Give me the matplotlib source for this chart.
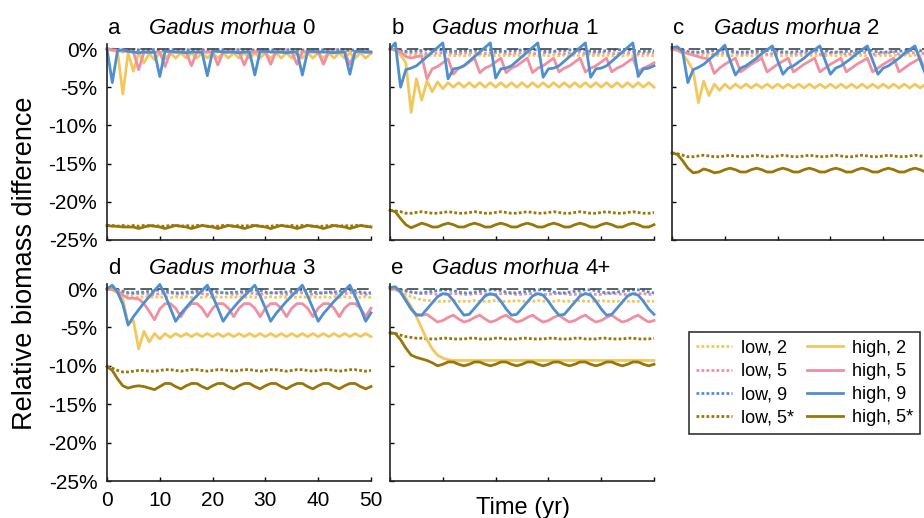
import matplotlib
matplotlib.use("Agg")
import matplotlib.pyplot as plt

plt.rcParams["font.family"] = ["Liberation Sans", "DejaVu Sans"]

years = list(range(51))

# ---- a: Gadus morhua 0 ----
a_low2 = [0, -0.1, -0.2, -0.4, -0.3, -0.4, -0.3, -0.4, -0.3, -0.4,
          -0.3, -0.4, -0.3, -0.4, -0.3, -0.4, -0.3, -0.4, -0.3, -0.4,
          -0.3, -0.4, -0.3, -0.4, -0.3, -0.4, -0.3, -0.4, -0.3, -0.4,
          -0.3, -0.4, -0.3, -0.4, -0.3, -0.4, -0.3, -0.4, -0.3, -0.4,
          -0.3, -0.4, -0.3, -0.4, -0.3, -0.4, -0.3, -0.4, -0.3, -0.4,
          -0.3]
a_low5 = [0, 0, -0.1, -0.1, -0.1, -0.1, -0.2, -0.1, -0.1, -0.1,
          -0.1, -0.2, -0.1, -0.1, -0.1, -0.1, -0.2, -0.1, -0.1, -0.1,
          -0.1, -0.2, -0.1, -0.1, -0.1, -0.1, -0.2, -0.1, -0.1, -0.1,
          -0.1, -0.2, -0.1, -0.1, -0.1, -0.1, -0.2, -0.1, -0.1, -0.1,
          -0.1, -0.2, -0.1, -0.1, -0.1, -0.1, -0.2, -0.1, -0.1, -0.1,
          -0.1]
a_low9 = [0, -0.1, -0.1, -0.1, -0.1, -0.1, -0.1, -0.1, -0.1, -0.1,
          -0.2, -0.1, -0.1, -0.1, -0.1, -0.1, -0.1, -0.1, -0.1, -0.2,
          -0.1, -0.1, -0.1, -0.1, -0.1, -0.1, -0.1, -0.1, -0.2, -0.1,
          -0.1, -0.1, -0.1, -0.1, -0.1, -0.1, -0.1, -0.2, -0.1, -0.1,
          -0.1, -0.1, -0.1, -0.1, -0.1, -0.1, -0.2, -0.1, -0.1, -0.1,
          -0.1]
a_low5s = [-23.1, -23.1, -23.2, -23.1, -23.2, -23.1, -23.2, -23.1, -23.2, -23.1,
           -23.2, -23.2, -23.1, -23.1, -23.2, -23.1, -23.2, -23.1, -23.1, -23.2,
           -23.2, -23.2, -23.1, -23.1, -23.2, -23.1, -23.2, -23.1, -23.1, -23.2,
           -23.2, -23.2, -23.1, -23.1, -23.2, -23.1, -23.2, -23.1, -23.1, -23.2,
           -23.2, -23.2, -23.1, -23.1, -23.2, -23.1, -23.2, -23.1, -23.1, -23.2,
           -23.2]
a_high2 = [0, -0.2, -0.3, -5.9, -0.5, -2.9, -0.5, -1.8, -0.6, -1.4,
           -0.5, -1.3, -0.5, -1.2, -0.5, -1.2, -0.5, -1.2, -0.5, -1.2,
           -0.5, -1.2, -0.5, -1.2, -0.5, -1.2, -0.5, -1.2, -0.5, -1.2,
           -0.5, -1.2, -0.5, -1.2, -0.5, -1.2, -0.5, -1.2, -0.5, -1.2,
           -0.5, -1.2, -0.5, -1.2, -0.5, -1.2, -0.5, -1.2, -0.5, -1.2,
           -0.6]
a_high5 = [0, -0.1, -0.2, -0.3, -0.3, -0.4, -2.7, -0.4, -0.5, -0.4,
           -0.4, -2.3, -0.4, -0.4, -0.4, -0.4, -2.2, -0.4, -0.4, -0.4,
           -0.4, -2.1, -0.4, -0.4, -0.4, -0.4, -2.1, -0.4, -0.4, -0.4,
           -0.4, -2.0, -0.4, -0.4, -0.4, -0.4, -2.0, -0.4, -0.4, -0.4,
           -0.4, -2.0, -0.4, -0.4, -0.4, -0.4, -2.0, -0.4, -0.4, -0.4,
           -0.4]
a_high9 = [0, -4.4, -0.2, -0.1, -0.3, -0.4, -0.5, -0.4, -0.4, -0.4,
           -3.6, -0.3, -0.3, -0.4, -0.4, -0.5, -0.4, -0.4, -0.4, -3.5,
           -0.3, -0.3, -0.4, -0.4, -0.4, -0.5, -0.4, -0.4, -3.4, -0.3,
           -0.3, -0.4, -0.4, -0.4, -0.5, -0.4, -0.4, -3.4, -0.3, -0.3,
           -0.4, -0.4, -0.4, -0.5, -0.4, -0.4, -3.3, -0.3, -0.3, -0.4,
           -0.4]
a_high5s = [-23.1, -23.2, -23.2, -23.3, -23.3, -23.3, -23.5, -23.3, -23.1, -23.2,
            -23.3, -23.5, -23.3, -23.1, -23.2, -23.3, -23.5, -23.3, -23.1, -23.2,
            -23.3, -23.5, -23.3, -23.1, -23.2, -23.3, -23.5, -23.3, -23.1, -23.2,
            -23.3, -23.5, -23.3, -23.1, -23.2, -23.3, -23.5, -23.3, -23.1, -23.2,
            -23.3, -23.5, -23.3, -23.1, -23.2, -23.3, -23.5, -23.3, -23.1, -23.2,
            -23.3]

# ---- b: Gadus morhua 1 ----
b_low2 = [0, -0.1, -0.3, -0.6, -0.9, -0.8, -0.9, -0.8, -0.9, -0.8,
          -0.9, -0.8, -0.9, -0.8, -0.9, -0.8, -0.9, -0.8, -0.9, -0.8,
          -0.9, -0.8, -0.9, -0.8, -0.9, -0.8, -0.9, -0.8, -0.9, -0.8,
          -0.9, -0.8, -0.9, -0.8, -0.9, -0.8, -0.9, -0.8, -0.9, -0.8,
          -0.9, -0.8, -0.9, -0.8, -0.9, -0.8, -0.9, -0.8, -0.9, -0.8,
          -0.9]
b_low5 = [0, -0.1, -0.2, -0.4, -0.5, -0.5, -0.5, -0.6, -0.6, -0.5,
          -0.5, -0.4, -0.6, -0.6, -0.5, -0.5, -0.4, -0.6, -0.6, -0.5,
          -0.5, -0.4, -0.6, -0.6, -0.5, -0.5, -0.4, -0.6, -0.6, -0.5,
          -0.5, -0.4, -0.6, -0.6, -0.5, -0.5, -0.4, -0.6, -0.6, -0.5,
          -0.5, -0.4, -0.6, -0.6, -0.5, -0.5, -0.4, -0.6, -0.6, -0.5,
          -0.5]
b_low9 = [0, 0, -0.3, -0.3, -0.3, -0.2, -0.2, -0.1, -0.1, -0.1,
          -0.1, -0.3, -0.3, -0.3, -0.2, -0.2, -0.1, -0.1, -0.1, -0.1,
          -0.3, -0.3, -0.3, -0.2, -0.2, -0.1, -0.1, -0.1, -0.1, -0.3,
          -0.3, -0.3, -0.2, -0.2, -0.1, -0.1, -0.1, -0.1, -0.3, -0.3,
          -0.3, -0.2, -0.2, -0.1, -0.1, -0.1, -0.1, -0.3, -0.3, -0.3,
          -0.2]
b_low5s = [-21.1, -21.2, -21.3, -21.5, -21.5, -21.4, -21.3, -21.4, -21.5, -21.5,
           -21.4, -21.3, -21.4, -21.5, -21.5, -21.4, -21.3, -21.4, -21.5, -21.5,
           -21.4, -21.3, -21.4, -21.5, -21.5, -21.4, -21.3, -21.4, -21.5, -21.5,
           -21.4, -21.3, -21.4, -21.5, -21.5, -21.4, -21.3, -21.4, -21.5, -21.5,
           -21.4, -21.3, -21.4, -21.5, -21.5, -21.4, -21.3, -21.4, -21.5, -21.5,
           -21.4]
b_high2 = [0, -0.2, -0.8, -1.8, -8.3, -3.9, -6.7, -4.2, -5.6, -4.3,
           -5.2, -4.4, -5.0, -4.4, -5.0, -4.4, -5.0, -4.4, -5.0, -4.4,
           -5.0, -4.4, -5.0, -4.4, -5.0, -4.4, -5.0, -4.4, -5.0, -4.4,
           -5.0, -4.4, -5.0, -4.4, -5.0, -4.4, -5.0, -4.4, -5.0, -4.4,
           -5.0, -4.4, -5.0, -4.4, -5.0, -4.4, -5.0, -4.4, -5.0, -4.4,
           -5.0]
b_high5 = [0, -0.1, -0.4, -1.0, -1.2, -1.0, -0.9, -3.9, -2.6, -2.3,
           -1.8, -1.3, -3.3, -2.5, -2.2, -1.7, -1.2, -3.1, -2.5, -2.2,
           -1.7, -1.2, -3.1, -2.5, -2.2, -1.7, -1.2, -3.1, -2.5, -2.2,
           -1.7, -1.2, -3.0, -2.5, -2.2, -1.7, -1.2, -3.0, -2.5, -2.2,
           -1.7, -1.2, -3.0, -2.5, -2.2, -1.7, -1.2, -3.0, -2.5, -2.2,
           -1.8]
b_high9 = [0, 0.8, -5.0, -2.7, -2.5, -2.2, -1.6, -1.0, -0.4, 0.2,
           0.8, -3.9, -2.6, -2.5, -2.2, -1.6, -1.0, -0.4, 0.2, 0.8,
           -3.8, -2.6, -2.5, -2.2, -1.6, -1.0, -0.4, 0.2, 0.8, -3.7,
           -2.6, -2.5, -2.2, -1.6, -1.0, -0.4, 0.2, 0.8, -3.7, -2.6,
           -2.5, -2.2, -1.6, -1.0, -0.4, 0.2, 0.8, -3.6, -2.6, -2.5,
           -2.2]
b_high5s = [-21.1, -21.3, -22.2, -23.0, -23.4, -23.1, -22.8, -23.0, -23.3, -23.3,
            -23.0, -22.8, -23.0, -23.3, -23.3, -23.0, -22.8, -23.0, -23.3, -23.3,
            -23.0, -22.8, -23.0, -23.3, -23.3, -23.0, -22.8, -23.0, -23.3, -23.3,
            -23.0, -22.8, -23.0, -23.3, -23.3, -23.0, -22.8, -23.0, -23.3, -23.3,
            -23.0, -22.8, -23.0, -23.3, -23.3, -23.0, -22.8, -23.0, -23.3, -23.3,
            -23.0]

# ---- c: Gadus morhua 2 ----
c_low2 = [0, -0.1, -0.2, -0.4, -0.7, -0.9, -0.8, -0.9, -0.8, -0.9,
          -0.8, -0.9, -0.8, -0.9, -0.8, -0.9, -0.8, -0.9, -0.8, -0.9,
          -0.8, -0.9, -0.8, -0.9, -0.8, -0.9, -0.8, -0.9, -0.8, -0.9,
          -0.8, -0.9, -0.8, -0.9, -0.8, -0.9, -0.8, -0.9, -0.8, -0.9,
          -0.8, -0.9, -0.8, -0.9, -0.8, -0.9, -0.8, -0.9, -0.8, -0.9,
          -0.8]
c_low5 = [0, -0.1, -0.2, -0.3, -0.4, -0.5, -0.5, -0.5, -0.7, -0.6,
          -0.5, -0.5, -0.4, -0.7, -0.6, -0.5, -0.5, -0.4, -0.7, -0.6,
          -0.5, -0.5, -0.4, -0.7, -0.6, -0.5, -0.5, -0.4, -0.7, -0.6,
          -0.5, -0.5, -0.4, -0.7, -0.6, -0.5, -0.5, -0.4, -0.7, -0.6,
          -0.5, -0.5, -0.4, -0.7, -0.6, -0.5, -0.5, -0.4, -0.7, -0.6,
          -0.5]
c_low9 = [0.1, 0.1, -0.1, -0.4, -0.4, -0.4, -0.3, -0.3, -0.2, -0.2,
          -0.1, -0.2, -0.4, -0.4, -0.4, -0.3, -0.3, -0.2, -0.2, -0.1,
          -0.2, -0.4, -0.4, -0.4, -0.3, -0.3, -0.2, -0.2, -0.1, -0.2,
          -0.4, -0.4, -0.4, -0.3, -0.3, -0.2, -0.2, -0.1, -0.2, -0.4,
          -0.4, -0.4, -0.3, -0.3, -0.2, -0.2, -0.1, -0.2, -0.4, -0.4,
          -0.4]
c_low5s = [-13.6, -13.7, -13.9, -14.1, -14.1, -14.0, -13.9, -14.0, -14.1, -14.1,
           -14.0, -13.9, -14.0, -14.1, -14.1, -14.0, -13.9, -14.0, -14.1, -14.1,
           -14.0, -13.9, -14.0, -14.1, -14.1, -14.0, -13.9, -14.0, -14.1, -14.1,
           -14.0, -13.9, -14.0, -14.1, -14.1, -14.0, -13.9, -14.0, -14.1, -14.1,
           -14.0, -13.9, -14.0, -14.1, -14.1, -14.0, -13.9, -14.0, -14.1, -14.1,
           -14.0]
c_high2 = [0, -0.2, -0.6, -1.6, -2.8, -7.0, -4.2, -6.1, -4.6, -5.4,
           -4.6, -5.2, -4.6, -5.1, -4.6, -5.1, -4.6, -5.1, -4.6, -5.1,
           -4.6, -5.1, -4.6, -5.1, -4.6, -5.1, -4.6, -5.1, -4.6, -5.1,
           -4.6, -5.1, -4.6, -5.1, -4.6, -5.1, -4.6, -5.1, -4.6, -5.1,
           -4.6, -5.1, -4.6, -5.1, -4.6, -5.1, -4.6, -5.1, -4.6, -5.1,
           -4.6]
c_high5 = [0, -0.1, -0.4, -0.6, -0.8, -1.0, -1.2, -1.3, -3.2, -2.5,
           -2.0, -1.6, -1.2, -3.0, -2.5, -2.0, -1.6, -1.2, -3.0, -2.5,
           -2.0, -1.6, -1.2, -3.0, -2.5, -2.0, -1.6, -1.2, -3.0, -2.5,
           -2.0, -1.6, -1.2, -3.0, -2.5, -2.0, -1.6, -1.2, -3.0, -2.5,
           -2.0, -1.6, -1.2, -3.0, -2.5, -2.0, -1.6, -1.2, -3.0, -2.5,
           -2.0]
c_high9 = [0.2, 0.3, -0.3, -4.4, -2.7, -2.4, -2.0, -1.4, -0.8, -0.2,
           0.5, -1.5, -3.4, -2.5, -2.2, -1.7, -1.2, -0.6, -0.1, 0.4,
           -1.5, -3.3, -2.5, -2.2, -1.7, -1.2, -0.6, -0.1, 0.4, -1.5,
           -3.3, -2.5, -2.2, -1.7, -1.2, -0.6, -0.1, 0.4, -1.5, -3.3,
           -2.5, -2.2, -1.7, -1.2, -0.6, -0.1, 0.4, -1.5, -3.3, -2.5,
           -2.2]
c_high5s = [-13.6, -13.8, -14.6, -15.6, -16.2, -16.1, -15.7, -15.9, -16.2, -16.1,
            -15.8, -15.6, -15.8, -16.1, -16.1, -15.8, -15.6, -15.8, -16.1, -16.1,
            -15.8, -15.6, -15.8, -16.1, -16.1, -15.8, -15.6, -15.8, -16.1, -16.1,
            -15.8, -15.6, -15.8, -16.1, -16.1, -15.8, -15.6, -15.8, -16.1, -16.1,
            -15.8, -15.6, -15.8, -16.1, -16.1, -15.8, -15.6, -15.8, -16.1, -16.1,
            -15.8]

# ---- d: Gadus morhua 3 ----
d_low2 = [0, -0.1, -0.3, -0.6, -0.9, -1.0, -1.1, -1.0, -1.1, -1.0,
          -1.1, -1.0, -1.1, -1.0, -1.1, -1.0, -1.1, -1.0, -1.1, -1.0,
          -1.1, -1.0, -1.1, -1.0, -1.1, -1.0, -1.1, -1.0, -1.1, -1.0,
          -1.1, -1.0, -1.1, -1.0, -1.1, -1.0, -1.1, -1.0, -1.1, -1.0,
          -1.1, -1.0, -1.1, -1.0, -1.1, -1.0, -1.1, -1.0, -1.1, -1.0,
          -1.1]
d_low5 = [0, 0, -0.1, -0.3, -0.5, -0.6, -0.6, -0.6, -0.7, -0.7,
          -0.6, -0.5, -0.5, -0.6, -0.7, -0.6, -0.5, -0.5, -0.6, -0.7,
          -0.6, -0.5, -0.5, -0.6, -0.7, -0.6, -0.5, -0.5, -0.6, -0.7,
          -0.6, -0.5, -0.5, -0.6, -0.7, -0.6, -0.5, -0.5, -0.6, -0.7,
          -0.6, -0.5, -0.5, -0.6, -0.7, -0.6, -0.5, -0.5, -0.6, -0.7,
          -0.6]
d_low9 = [0, 0.1, -0.1, -0.3, -0.5, -0.5, -0.4, -0.4, -0.3, -0.2,
          -0.1, -0.2, -0.4, -0.5, -0.5, -0.4, -0.4, -0.3, -0.2, -0.1,
          -0.2, -0.4, -0.5, -0.5, -0.4, -0.4, -0.3, -0.2, -0.1, -0.2,
          -0.4, -0.5, -0.5, -0.4, -0.4, -0.3, -0.2, -0.1, -0.2, -0.4,
          -0.5, -0.5, -0.4, -0.4, -0.3, -0.2, -0.1, -0.2, -0.4, -0.5,
          -0.5]
d_low5s = [-10.1, -10.3, -10.6, -10.8, -10.8, -10.7, -10.6, -10.6, -10.7, -10.7,
           -10.6, -10.5, -10.5, -10.6, -10.7, -10.6, -10.5, -10.5, -10.6, -10.7,
           -10.6, -10.5, -10.5, -10.6, -10.7, -10.6, -10.5, -10.5, -10.6, -10.7,
           -10.6, -10.5, -10.5, -10.6, -10.7, -10.6, -10.5, -10.5, -10.6, -10.7,
           -10.6, -10.5, -10.5, -10.6, -10.7, -10.6, -10.5, -10.5, -10.6, -10.7,
           -10.6]
d_high2 = [0, -0.1, -0.5, -1.3, -4.5, -4.1, -7.8, -5.5, -6.9, -5.8,
           -6.5, -5.8, -6.3, -5.8, -6.2, -5.8, -6.2, -5.8, -6.2, -5.8,
           -6.2, -5.8, -6.2, -5.8, -6.2, -5.8, -6.2, -5.8, -6.2, -5.8,
           -6.2, -5.8, -6.2, -5.8, -6.2, -5.8, -6.2, -5.8, -6.2, -5.8,
           -6.2, -5.8, -6.2, -5.8, -6.2, -5.8, -6.2, -5.8, -6.2, -5.8,
           -6.2]
d_high5 = [0, 0, -0.2, -0.8, -1.2, -1.2, -1.3, -1.9, -2.9, -4.0,
           -2.6, -1.9, -1.9, -2.5, -3.6, -2.5, -1.9, -1.9, -2.5, -3.6,
           -2.5, -1.9, -1.9, -2.5, -3.6, -2.5, -1.9, -1.9, -2.5, -3.6,
           -2.5, -1.9, -1.9, -2.5, -3.6, -2.5, -1.9, -1.9, -2.5, -3.6,
           -2.5, -1.9, -1.9, -2.5, -3.6, -2.5, -1.9, -1.9, -2.5, -3.6,
           -2.5]
d_high9 = [0, 0.5, -0.4, -2.0, -4.7, -3.6, -2.7, -1.8, -1.0, -0.2,
           0.6, -0.8, -2.5, -4.2, -3.2, -2.4, -1.6, -0.9, -0.2, 0.5,
           -0.9, -2.5, -4.2, -3.2, -2.4, -1.6, -0.9, -0.2, 0.5, -0.9,
           -2.5, -4.2, -3.2, -2.4, -1.6, -0.9, -0.2, 0.5, -0.9, -2.5,
           -4.2, -3.2, -2.4, -1.6, -0.9, -0.2, 0.5, -0.9, -2.5, -4.2,
           -3.1]
d_high5s = [-10.1, -10.6, -11.7, -12.6, -12.9, -12.7, -12.6, -12.7, -12.9, -13.1,
            -12.7, -12.3, -12.3, -12.7, -13.0, -12.6, -12.3, -12.3, -12.7, -13.0,
            -12.6, -12.3, -12.3, -12.7, -13.0, -12.6, -12.3, -12.3, -12.7, -13.0,
            -12.6, -12.3, -12.3, -12.7, -13.0, -12.6, -12.3, -12.3, -12.7, -13.0,
            -12.6, -12.3, -12.3, -12.7, -13.0, -12.6, -12.3, -12.3, -12.7, -13.0,
            -12.7]

# ---- e: Gadus morhua 4+ ----
e_low2 = [0, -0.1, -0.4, -0.7, -1.0, -1.2, -1.4, -1.5, -1.5, -1.6,
          -1.6, -1.6, -1.5, -1.6, -1.6, -1.6, -1.5, -1.6, -1.6, -1.6,
          -1.5, -1.6, -1.6, -1.6, -1.5, -1.6, -1.6, -1.6, -1.5, -1.6,
          -1.6, -1.6, -1.5, -1.6, -1.6, -1.6, -1.5, -1.6, -1.6, -1.6,
          -1.5, -1.6, -1.6, -1.6, -1.5, -1.6, -1.6, -1.6, -1.5, -1.6,
          -1.6]
e_low5 = [0, 0, -0.1, -0.3, -0.4, -0.5, -0.6, -0.6, -0.6, -0.7,
          -0.7, -0.6, -0.6, -0.6, -0.7, -0.7, -0.6, -0.6, -0.6, -0.7,
          -0.7, -0.6, -0.6, -0.6, -0.7, -0.7, -0.6, -0.6, -0.6, -0.7,
          -0.7, -0.6, -0.6, -0.6, -0.7, -0.7, -0.6, -0.6, -0.6, -0.7,
          -0.7, -0.6, -0.6, -0.6, -0.7, -0.7, -0.6, -0.6, -0.6, -0.7,
          -0.7]
e_low9 = [0.1, 0.1, -0.1, -0.2, -0.4, -0.5, -0.5, -0.4, -0.3, -0.2,
          -0.1, -0.1, -0.2, -0.4, -0.5, -0.5, -0.4, -0.3, -0.2, -0.1,
          -0.1, -0.2, -0.4, -0.5, -0.5, -0.4, -0.3, -0.2, -0.1, -0.1,
          -0.2, -0.4, -0.5, -0.5, -0.4, -0.3, -0.2, -0.1, -0.1, -0.2,
          -0.4, -0.5, -0.5, -0.4, -0.3, -0.2, -0.1, -0.1, -0.2, -0.4,
          -0.5]
e_low5s = [-5.7, -5.8, -6.0, -6.2, -6.3, -6.4, -6.4, -6.5, -6.5, -6.5,
           -6.4, -6.4, -6.5, -6.5, -6.5, -6.4, -6.4, -6.5, -6.5, -6.5,
           -6.4, -6.4, -6.5, -6.5, -6.5, -6.4, -6.4, -6.5, -6.5, -6.5,
           -6.4, -6.4, -6.5, -6.5, -6.5, -6.4, -6.4, -6.5, -6.5, -6.5,
           -6.4, -6.4, -6.5, -6.5, -6.5, -6.4, -6.4, -6.5, -6.5, -6.5,
           -6.4]
e_high2 = [0.1, 0.1, -0.3, -1.2, -2.3, -3.6, -5.1, -6.6, -7.8, -8.6,
           -9.0, -9.2, -9.3, -9.3, -9.3, -9.3, -9.3, -9.3, -9.3, -9.3,
           -9.3, -9.3, -9.3, -9.3, -9.3, -9.3, -9.3, -9.3, -9.3, -9.3,
           -9.3, -9.3, -9.3, -9.3, -9.3, -9.3, -9.3, -9.3, -9.3, -9.3,
           -9.3, -9.3, -9.3, -9.3, -9.3, -9.3, -9.3, -9.3, -9.3, -9.3,
           -9.3]
e_high5 = [0.1, 0.1, -0.4, -1.5, -2.6, -3.3, -3.4, -3.3, -3.8, -4.3,
           -4.1, -3.7, -3.4, -3.9, -4.3, -4.1, -3.7, -3.4, -3.9, -4.3,
           -4.1, -3.7, -3.4, -3.9, -4.3, -4.1, -3.7, -3.4, -3.9, -4.3,
           -4.1, -3.7, -3.4, -3.9, -4.3, -4.1, -3.7, -3.4, -3.9, -4.3,
           -4.1, -3.7, -3.4, -3.9, -4.3, -4.1, -3.7, -3.4, -3.9, -4.3,
           -4.1]
e_high9 = [0.2, 0.3, -0.4, -1.5, -2.6, -3.4, -3.4, -2.6, -1.8, -1.0,
           -0.6, -0.7, -1.5, -2.5, -3.4, -3.3, -2.5, -1.7, -0.9, -0.6,
           -0.8, -1.6, -2.6, -3.4, -3.3, -2.5, -1.7, -0.9, -0.6, -0.8,
           -1.6, -2.6, -3.4, -3.3, -2.5, -1.7, -0.9, -0.6, -0.8, -1.6,
           -2.6, -3.4, -3.3, -2.5, -1.7, -0.9, -0.6, -0.8, -1.6, -2.6,
           -3.3]
e_high5s = [-5.7, -5.8, -6.6, -7.7, -8.6, -8.9, -9.1, -9.3, -9.6, -10.0,
            -9.8, -9.5, -9.5, -9.8, -10.0, -9.8, -9.5, -9.5, -9.8, -10.0,
            -9.8, -9.5, -9.5, -9.8, -10.0, -9.8, -9.5, -9.5, -9.8, -10.0,
            -9.8, -9.5, -9.5, -9.8, -10.0, -9.8, -9.5, -9.5, -9.8, -10.0,
            -9.8, -9.5, -9.5, -9.8, -10.0, -9.8, -9.5, -9.5, -9.8, -10.0,
            -9.8]

series_keys = ["2", "5", "9", "5*"]
colors = {"2": "#f2c85c", "5": "#ef8fa2", "9": "#4f8fd0", "5*": "#9a7507"}
xticks = [0, 10, 20, 30, 40, 50]
yticks = [0, -5, -10, -15, -20, -25]

# letter, age, axes rect, low series, high series, show y labels, show x labels
panels = [
    ("a", "0", [0.1158, 0.5367, 0.2857, 0.379],
     [a_low2, a_low5, a_low9, a_low5s], [a_high2, a_high5, a_high9, a_high5s], True, False),
    ("b", "1", [0.4221, 0.5367, 0.2857, 0.379],
     [b_low2, b_low5, b_low9, b_low5s], [b_high2, b_high5, b_high9, b_high5s], False, False),
    ("c", "2", [0.7273, 0.5367, 0.2857, 0.379],
     [c_low2, c_low5, c_low9, c_low5s], [c_high2, c_high5, c_high9, c_high5s], False, False),
    ("d", "3", [0.1158, 0.0714, 0.2857, 0.381],
     [d_low2, d_low5, d_low9, d_low5s], [d_high2, d_high5, d_high9, d_high5s], True, True),
    ("e", "4+", [0.4221, 0.0714, 0.2857, 0.381],
     [e_low2, e_low5, e_low9, e_low5s], [e_high2, e_high5, e_high9, e_high5s], False, False),
]

fig = plt.figure(figsize=(9.24, 5.18), dpi=100)

handles = []
for letter, age, rect, lows, highs, ylab, xlab in panels:
    ax = fig.add_axes(rect)
    low_lines = []
    for key, vals in zip(series_keys, lows):
        ln, = ax.plot(years, vals, color=colors[key], lw=2.0,
                      ls=(0, (1, 0.8)), label=f"low, {key}", clip_on=False)
        low_lines.append(ln)
    ax.axhline(0, color="#444444", lw=1.2, ls=(0, (7, 3)))
    high_lines = []
    for key, vals in zip(series_keys, highs):
        ln, = ax.plot(years, vals, color=colors[key], lw=2.0,
                      label=f"high, {key}", clip_on=False)
        high_lines.append(ln)
    if not handles:
        handles = low_lines + high_lines

    ax.set_xlim(0, 50)
    ax.set_ylim(-25, 0.7)
    ax.set_xticks(xticks)
    ax.set_yticks(yticks)
    ax.set_yticklabels([f"{v}%" for v in yticks])
    ax.tick_params(direction="in", length=3, width=1, labelsize=15, pad=7,
                   labelleft=ylab, labelbottom=xlab)
    for side in ("top", "right"):
        ax.spines[side].set_visible(False)
    for side in ("left", "bottom"):
        ax.spines[side].set_linewidth(1.2)
        ax.spines[side].set_color("#222222")

    ax.text(0.005, 1.05, letter, transform=ax.transAxes, fontsize=16,
            va="baseline", ha="left")
    name = ax.text(0.159, 1.05, "Gadus morhua", transform=ax.transAxes,
                   fontsize=16, style="italic", va="baseline", ha="left")
    ax.annotate(age, xy=(1, 0), xycoords=name, xytext=(4.5, 0),
                textcoords="offset points", fontsize=16, va="bottom", ha="left")

fig.text(0.027, 0.492, "Relative biomass difference", rotation=90,
         ha="center", va="center", fontsize=19.5)
fig.text(0.566, 0.008, "Time (yr)", ha="center", va="baseline", fontsize=17)

leg = fig.legend(handles, [h.get_label() for h in handles], ncol=2,
                 loc="center", bbox_to_anchor=(0.8706, 0.2606), fontsize=13,
                 frameon=True, fancybox=False, edgecolor="#333333",
                 handlelength=2.0, columnspacing=0.7, labelspacing=0.35,
                 borderpad=0.4, handletextpad=0.5)
leg.get_frame().set_linewidth(1.2)
leg.get_frame().set_alpha(1)

fig.savefig("out.png", dpi=100)
